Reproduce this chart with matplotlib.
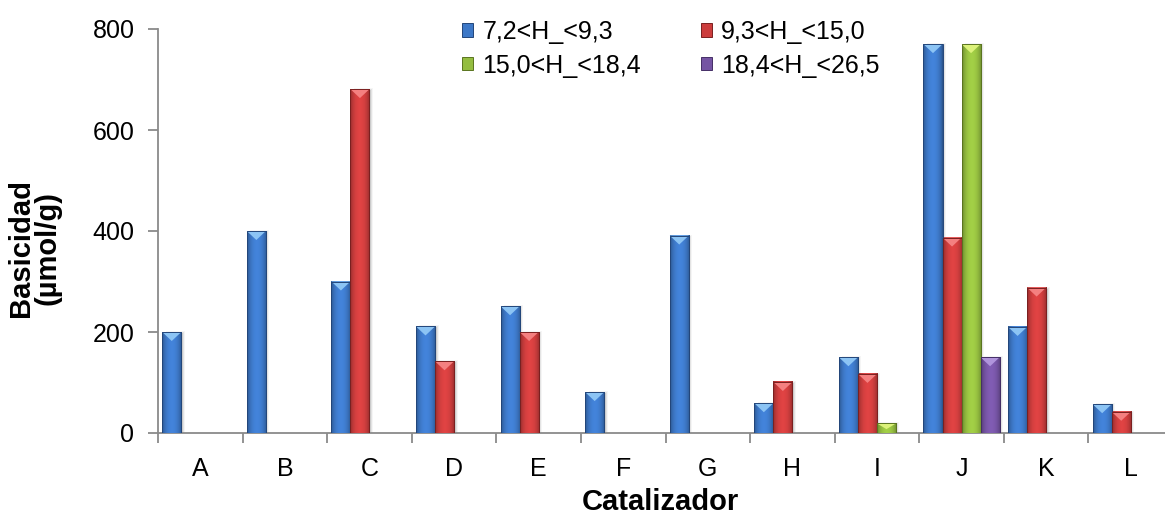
import matplotlib.pyplot as plt
import numpy as np
from matplotlib.patches import Polygon, Patch, Rectangle

plt.rcParams["font.family"] = ["Liberation Sans", "DejaVu Sans"]

categories = ["A", "B", "C", "D", "E", "F", "G", "H", "I", "J", "K", "L"]
series_labels = ["7,2<H_<9,3", "9,3<H_<15,0", "15,0<H_<18,4", "18,4<H_<26,5"]

# basicity per catalyst (µmol/g), one list per H_ range
h_7_9 = [200, 400, 300, 211, 251, 81, 391, 59, 150, 770, 210, 57]
h_9_15 = [0, 0, 681, 142, 200, 0, 0, 101, 117, 387, 288, 42]
h_15_18 = [0, 0, 0, 0, 0, 0, 0, 0, 19, 770, 0, 0]
h_18_26 = [0, 0, 0, 0, 0, 0, 0, 0, 0, 150, 0, 0]

series = [h_7_9, h_9_15, h_15_18, h_18_26]
base_colors = [(0.24, 0.47, 0.78), (0.80, 0.24, 0.24), (0.58, 0.74, 0.25), (0.46, 0.33, 0.64)]
top_colors = ["#8cc4f4", "#f48080", "#dcf27a", "#b094dc"]
edge_colors = ["#23467a", "#7a2020", "#5a7420", "#452f66"]

W, H = 1165, 517
fig = plt.figure(figsize=(W / 100, H / 100), dpi=100)
ax_box = [158 / W, 84 / H, 1015 / W, 404 / H]
ax = fig.add_axes(ax_box)

bar_w = 0.225
ymax = 800
units_per_px = ymax / (ax_box[3] * H)
xunits_per_px = 12 / (ax_box[2] * W)

t = np.linspace(0, 1, 48)
shade = 0.66 + 0.44 * np.sin(np.pi * t) ** 0.6


def bevel_bar(x0, h, k):
    base = np.array(base_colors[k])
    # soft drop shadow
    for i, a in enumerate([0.10, 0.07, 0.04]):
        off = (i + 1.5) * xunits_per_px
        ax.add_patch(Rectangle((x0 + off, 0), bar_w, h + (i - 1) * units_per_px,
                               color="k", alpha=a, lw=0, zorder=2))
    grad = np.clip(np.outer(shade, base), 0, 1)[None, :, :]
    ax.imshow(grad, extent=(x0, x0 + bar_w, 0, h), aspect="auto",
              interpolation="bilinear", zorder=3)
    d = min(9 * units_per_px, h * 0.6)
    ax.add_patch(Polygon([(x0, h), (x0 + bar_w, h), (x0 + bar_w / 2, h - d)],
                         closed=True, color=top_colors[k], lw=0, zorder=4))
    ax.add_patch(Rectangle((x0, 0), bar_w, h, fill=False,
                           edgecolor=edge_colors[k], lw=0.7, zorder=5))


for k, vals in enumerate(series):
    for i, v in enumerate(vals):
        if v > 0:
            x0 = i + (k - 2) * bar_w
            bevel_bar(x0, v, k)

ax.set_xlim(-0.5, 11.5)
ax.set_ylim(0, ymax)

spine_c = "#8a8a8a"
for s in ["top", "right"]:
    ax.spines[s].set_visible(False)
for s in ["left", "bottom"]:
    ax.spines[s].set_color(spine_c)
    ax.spines[s].set_linewidth(1.3)

ax.set_yticks(np.arange(0, 801, 200))
ax.tick_params(axis="y", direction="out", length=7, width=1.3, color=spine_c,
               labelsize=18, pad=10)
ax.set_xticks(np.arange(-0.5, 12, 1))
ax.set_xticklabels([])
ax.set_xticks(np.arange(12), minor=True)
ax.set_xticklabels(categories, minor=True)
ax.tick_params(axis="x", which="major", direction="out", length=7, width=1.3, color=spine_c)
ax.tick_params(axis="x", which="minor", length=0, labelsize=18, pad=17)

fig.text(34 / W, 1 - 248 / H, "Basicidad\n(µmol/g)", rotation=90, ha="center",
         va="center", fontsize=21, fontweight="bold", multialignment="center",
         linespacing=0.95)
fig.text(660 / W, 1 - 502 / H, "Catalizador", ha="center", va="center",
         fontsize=21, fontweight="bold")

handles = [Patch(facecolor=base_colors[k], edgecolor=edge_colors[k], lw=0.7)
           for k in range(4)]
# legend reads across rows, so feed it column by column
order = [0, 2, 1, 3]
fig.legend([handles[i] for i in order], [series_labels[i] for i in order],
           loc="upper left", bbox_to_anchor=(462 / W, 1 - 20 / H), ncol=2,
           frameon=False, fontsize=18, handlelength=0.45, handleheight=0.45,
           handletextpad=0.36, columnspacing=2.4, labelspacing=0.38,
           borderpad=0, borderaxespad=0)

fig.savefig("out.png", dpi=100)
